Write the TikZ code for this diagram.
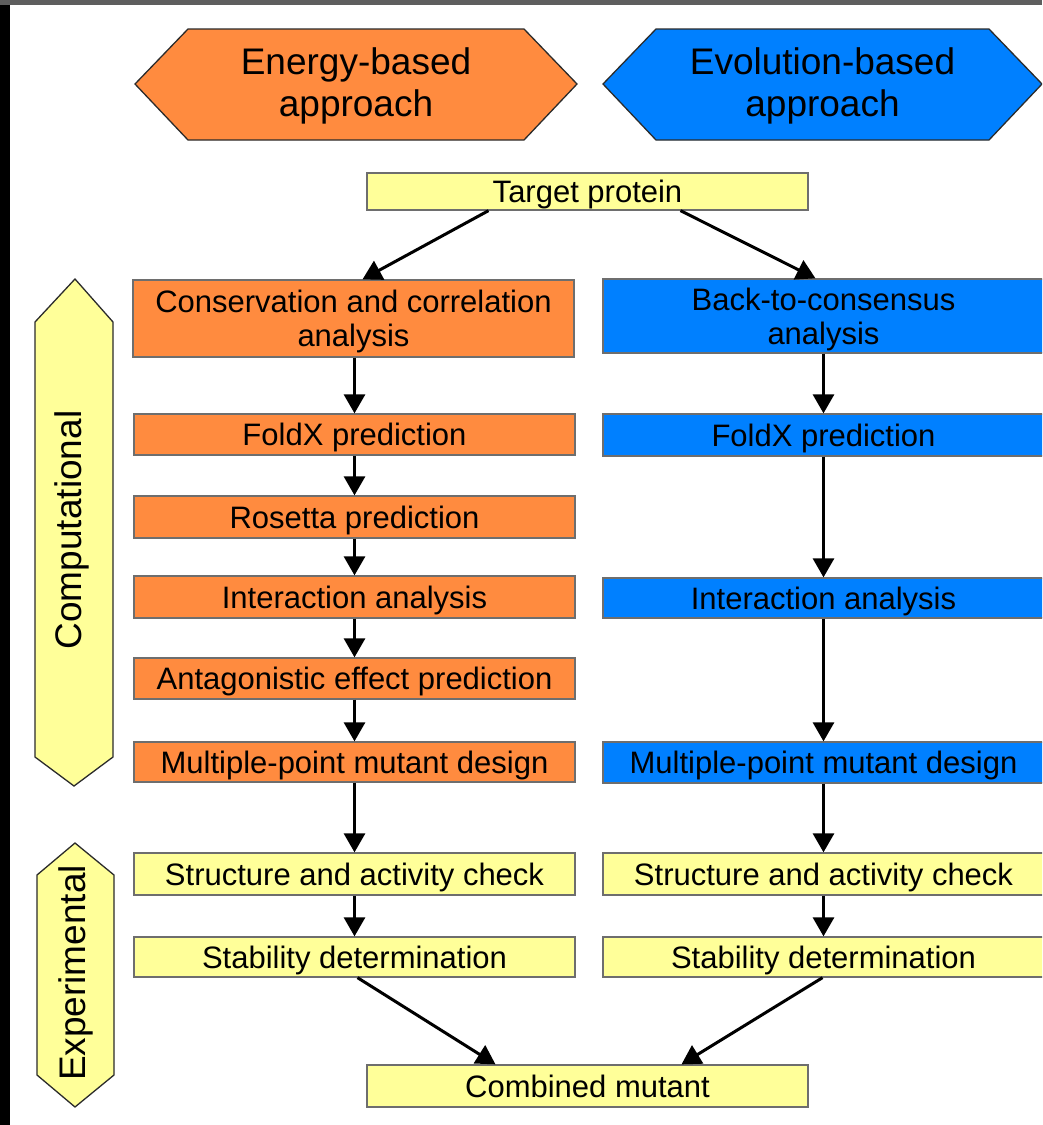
\documentclass[tikz,border=0pt]{standalone}
\usepackage{fontspec}
\setmainfont{Liberation Sans}
\usetikzlibrary{arrows.meta}

\definecolor{orangefill}{HTML}{FF8B3F}
\definecolor{bluefill}{HTML}{0080FF}
\definecolor{yellowfill}{HTML}{FFFF99}
\definecolor{boxedge}{HTML}{6E6E6E}
\definecolor{hexedge}{HTML}{2B2B2B}
\definecolor{topbar}{HTML}{5E5E5E}

\newcommand\boxtxt{\fontsize{31}{34}\selectfont}
\newcommand\headtxt{\fontsize{37}{42}\selectfont}

\begin{document}
\begin{tikzpicture}[x=1pt,y=-1pt,
  stepbox/.style={draw=boxedge, line width=1.3pt, minimum width=441pt,
    inner sep=0pt, align=center, font=\boxtxt, text depth=0pt},
  obox/.style={stepbox, fill=orangefill},
  bbox/.style={stepbox, fill=bluefill},
  ybox/.style={stepbox, fill=yellowfill},
  banner/.style={draw=hexedge, line width=1.3pt, line join=miter},
  headtext/.style={align=center, font=\headtxt, inner sep=0pt},
  sidetext/.style={font=\headtxt, inner sep=0pt, rotate=90},
  arr/.style={line width=3pt, -{Triangle[length=19pt,width=21pt]}}]

\clip (0,0) rectangle (1042,1125);
\fill[white] (0,0) rectangle (1042,1125);
% window frame strips
\fill[topbar] (0,0) rectangle (1042,5);
\fill[black] (0,5) rectangle (10,1125);

% approach banners
\draw[banner, fill=orangefill] (135,84) -- (188,29) -- (524,29) -- (577,84)
  -- (524,140) -- (188,140) -- cycle;
\node[headtext] (energy) at (356,85.5) {Energy-based\\approach};
\draw[banner, fill=bluefill] (603,84) -- (656,29) -- (989,29) -- (1042,84)
  -- (989,140) -- (656,140) -- cycle;
\node[headtext] (evolution) at (822.5,85.5) {Evolution-based\\approach};

% stage markers
\draw[banner, fill=yellowfill] (75,279) -- (113,322) -- (113,757) -- (74,786)
  -- (35,757) -- (35,322) -- cycle;
\node[sidetext] (comp) at (72,530) {Computational};
\draw[banner, fill=yellowfill] (75,843) -- (114,875) -- (114,1075) -- (75,1107)
  -- (37,1075) -- (37,875) -- cycle;
\node[sidetext] (exper) at (76,973) {Experimental};

% start and end
\node[ybox, minimum height=37pt] (tp) at (587.5,191.5) {Target protein};
\node[ybox, minimum height=42pt] (comb) at (587.5,1086) {Combined mutant};

% energy-based column
\node[obox, minimum height=77pt] (consL) at (353.5,318.5) {Conservation and correlation\\analysis};
\node[obox, minimum height=41pt] (foldL) at (354.5,434.5) {FoldX prediction};
\node[obox, minimum height=42pt] (rosL) at (354.5,517) {Rosetta prediction};
\node[obox, minimum height=42pt] (intL) at (354.5,597) {Interaction analysis};
\node[obox, minimum height=41pt] (antL) at (354.5,678.5) {Antagonistic effect prediction};
\node[obox, minimum height=40pt] (mulL) at (354.5,762) {Multiple-point mutant design};
\node[ybox, minimum height=42pt] (strL) at (354.5,874) {Structure and activity check};
\node[ybox, minimum height=40pt] (stabL) at (354.5,957) {Stability determination};

% evolution-based column
\node[bbox, minimum height=74pt] (btc) at (823.5,316) {Back-to-consensus\\analysis};
\node[bbox, minimum height=42pt] (foldR) at (823.5,435) {FoldX prediction};
\node[bbox, minimum height=40pt] (intR) at (823.5,598) {Interaction analysis};
\node[bbox, minimum height=41pt] (mulR) at (823.5,762.5) {Multiple-point mutant design};
\node[ybox, minimum height=42pt] (strR) at (823.5,874) {Structure and activity check};
\node[ybox, minimum height=40pt] (stabR) at (823.5,957) {Stability determination};

% connectors
\draw[arr] ([xshift=-99pt]tp.south) -- ([xshift=9pt]consL.north);
\draw[arr] ([xshift=93pt]tp.south) -- ([xshift=-8pt]btc.north);

\draw[arr] (consL.south -| foldL) -- (foldL);
\draw[arr] (foldL) -- (rosL);
\draw[arr] (rosL) -- (intL);
\draw[arr] (intL) -- (antL);
\draw[arr] (antL) -- (mulL);
\draw[arr] (mulL) -- (strL);
\draw[arr] (strL) -- (stabL);

\draw[arr] (btc) -- (foldR);
\draw[arr] (foldR) -- (intR);
\draw[arr] (intR) -- (mulR);
\draw[arr] (mulR) -- (strR);
\draw[arr] (strR) -- (stabR);

\draw[arr] ([xshift=3pt]stabL.south) -- ([xshift=-92pt]comb.north);
\draw[arr] ([xshift=-1pt]stabR.south) -- ([xshift=94pt]comb.north);
\end{tikzpicture}
\end{document}
